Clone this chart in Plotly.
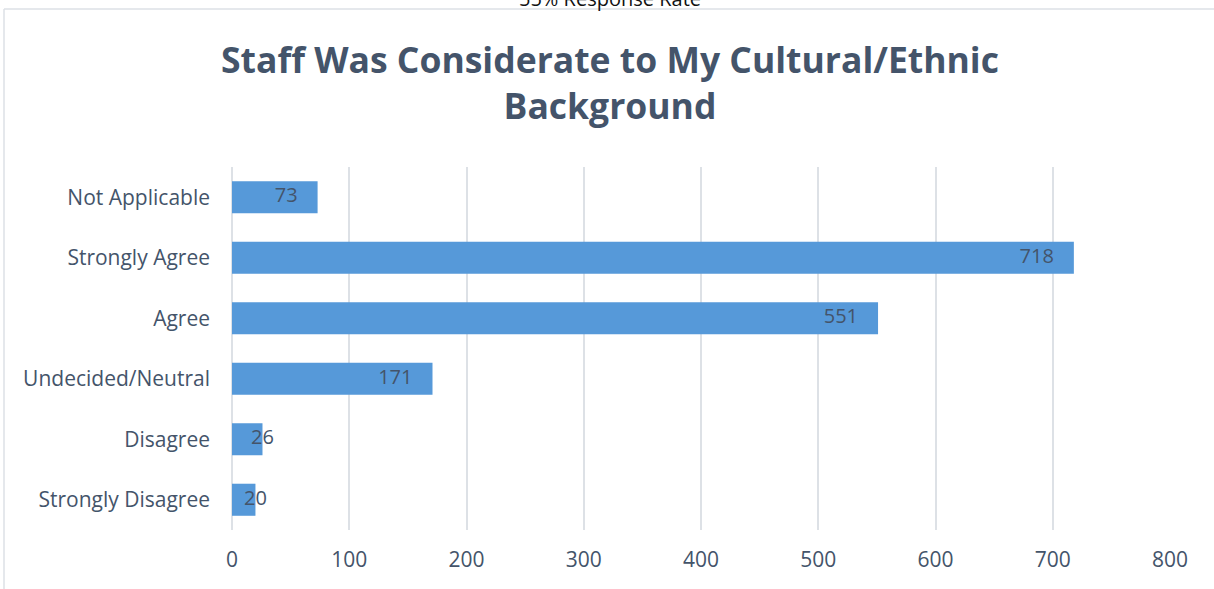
import plotly.graph_objects as go

categories = ["Strongly Disagree", "Disagree", "Undecided/Neutral", "Agree", "Strongly Agree", "Not Applicable"]
values = [20, 26, 171, 551, 718, 73]
x_ticks = [0, 100, 200, 300, 400, 500, 600, 700, 800]
title_text = "Staff Was Considerate to My Cultural/Ethnic<br>Background"
top_text = "55% Response Rate"

W, H = 1214, 589
L, R, T, B = 232, 44, 167, 59
pw, ph = W - L - R, H - T - B

def px_x(px):
    return (px - L) / pw

def px_y(py):
    return (H - B - py) / ph

text_col = "#44546A"
font_fam = "Open Sans, Noto Sans, sans-serif"

positions = ["middle left" if v > 60 else "middle center" for v in values]
labels = [f"{v}\u2003" if v > 60 else f"{v}" for v in values]

fig = go.Figure()
fig.add_trace(go.Bar(
    y=categories, x=values, orientation="h",
    marker=dict(color="#5699D9", line=dict(width=0)),
    hoverinfo="x+y",
))
fig.add_trace(go.Scatter(
    y=categories, x=values, mode="text",
    text=labels, textposition=positions,
    textfont=dict(family=font_fam, size=20, color=text_col),
    hoverinfo="skip", showlegend=False,
))

fig.update_layout(
    width=W, height=H,
    margin=dict(l=L, r=R, t=T, b=B),
    paper_bgcolor="white", plot_bgcolor="white",
    showlegend=False,
    bargap=0.47,
    title=dict(text=title_text, x=610 / W, xref="container", xanchor="center",
               y=1 - 73 / H, yref="container", yanchor="middle",
               font=dict(family=font_fam, size=35.5, color=text_col, weight="bold")),
    font=dict(family=font_fam, size=21, color=text_col),
)
fig.update_xaxes(
    range=[0, 800], tickvals=x_ticks, showgrid=True, gridcolor="#DDE1E6", gridwidth=2,
    zeroline=True, zerolinecolor="#DDE1E6", zerolinewidth=2, showline=False,
    ticks="", ticklabelstandoff=15, tickfont=dict(size=21, color=text_col),
    fixedrange=True,
)
fig.update_yaxes(
    categoryorder="array", categoryarray=categories, showgrid=False, showline=False,
    ticks="", ticklabelstandoff=21, tickfont=dict(size=21, color=text_col),
    fixedrange=True,
)

frame_col = "#DCE0E6"
fig.add_shape(type="line", xref="paper", yref="paper",
              x0=px_x(4), x1=px_x(W + 5), y0=px_y(9), y1=px_y(9),
              line=dict(color=frame_col, width=1.5))
fig.add_shape(type="line", xref="paper", yref="paper",
              x0=px_x(4), x1=px_x(4), y0=px_y(9), y1=px_y(H + 5),
              line=dict(color=frame_col, width=1.5))
fig.add_annotation(text=top_text, xref="paper", yref="paper",
                   x=px_x(610), y=px_y(-2), xanchor="center", yanchor="middle",
                   showarrow=False, font=dict(family=font_fam, size=20, color="#111111"))

fig.write_html("out.html", config={"displayModeBar": False},
               post_script="document.body.style.margin='0';document.body.style.overflow='hidden';")
